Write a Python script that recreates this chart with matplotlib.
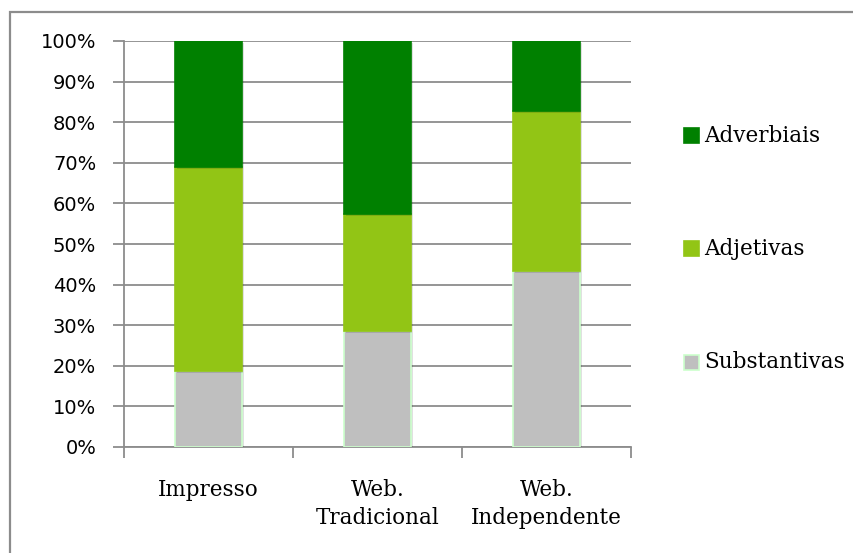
import matplotlib
matplotlib.use("Agg")
import matplotlib.pyplot as plt
from matplotlib.patches import Rectangle
import matplotlib.patheffects as pe
import numpy as np

categories = ["Impresso", "Web.\nTradicional", "Web.\nIndependente"]
series_names = ["Substantivas", "Adjetivas", "Adverbiais"]
substantivas = [18.8, 28.6, 43.4]
adjetivas = [50.1, 28.7, 39.3]
adverbiais = [31.1, 42.7, 17.3]
y_ticks = [0, 10, 20, 30, 40, 50, 60, 70, 80, 90, 100]
y_tick_labels = [f"{t}%" for t in y_ticks]

colors = {"Substantivas": "#BFBFBF", "Adjetivas": "#92C515", "Adverbiais": "#008000"}
edges = {"Substantivas": "#CCFFCC", "Adjetivas": "#92C515", "Adverbiais": "#008000"}
serif = ["DejaVu Serif"]
sans = ["DejaVu Sans"]

W, H = 854, 553
fig = plt.figure(figsize=(W / 100, H / 100), dpi=100)
ax = fig.add_axes([124 / W, (H - 447) / H, (631 - 124) / W, (447 - 41) / H])

x = np.arange(len(categories))
shadow = [pe.SimplePatchShadow(offset=(1.5, -1.5), shadow_rgbFace="#000000", alpha=0.12), pe.Normal()]
bottom = np.zeros(len(categories))
for name, vals in zip(series_names, [substantivas, adjetivas, adverbiais]):
    bars = ax.bar(x, vals, width=0.4, bottom=bottom, color=colors[name],
                  edgecolor=edges[name], linewidth=1.2, zorder=3)
    for b in bars:
        b.set_path_effects(shadow)
    bottom += np.array(vals)

ax.set_xlim(-0.5, len(categories) - 0.5)
ax.set_ylim(0, 100)
ax.set_yticks(y_ticks)
ax.set_yticklabels(y_tick_labels, fontsize=14, family=sans, color="#000000")
ax.yaxis.grid(True, color="#8C8C8C", linewidth=1.3, zorder=0)
ax.set_axisbelow(True)

# category boundaries carry the x tick marks; labels sit at the bar centres
ax.set_xticks(np.arange(len(categories) + 1) - 0.5)
ax.set_xticklabels([])
ax.tick_params(axis="x", length=8, width=1.3, color="#8C8C8C", direction="out")
ax.tick_params(axis="y", length=8, width=1.3, color="#8C8C8C", direction="out", pad=12)
for xi, lab in zip(x, categories):
    ax.text(xi, -8.0, lab, ha="center", va="top", fontsize=15.5, family=serif,
            linespacing=1.3, transform=ax.transData, clip_on=False)

for side in ["top", "right"]:
    ax.spines[side].set_visible(False)
for side in ["left", "bottom"]:
    ax.spines[side].set_color("#8C8C8C")
    ax.spines[side].set_linewidth(1.3)

# legend on the right, entries spread down the plot height
legend_y = {"Adverbiais": 135.5, "Adjetivas": 248.5, "Substantivas": 362}
sq = 15
for name in ["Adverbiais", "Adjetivas", "Substantivas"]:
    yc = legend_y[name]
    fig.patches.append(Rectangle((684 / W, (H - yc - sq / 2) / H), sq / W, sq / H,
                                 transform=fig.transFigure, facecolor=colors[name],
                                 edgecolor=edges[name], linewidth=1.2))
    fig.text(704 / W, (H - yc) / H, name, ha="left", va="center", fontsize=15.5, family=serif)

# outer chart frame
fig.patches.append(Rectangle((10 / W, -0.05), 1.2, (H - 12) / H + 0.05,
                             transform=fig.transFigure, facecolor="none",
                             edgecolor="#8C8C8C", linewidth=1.6))

fig.savefig("out.png", dpi=100)
